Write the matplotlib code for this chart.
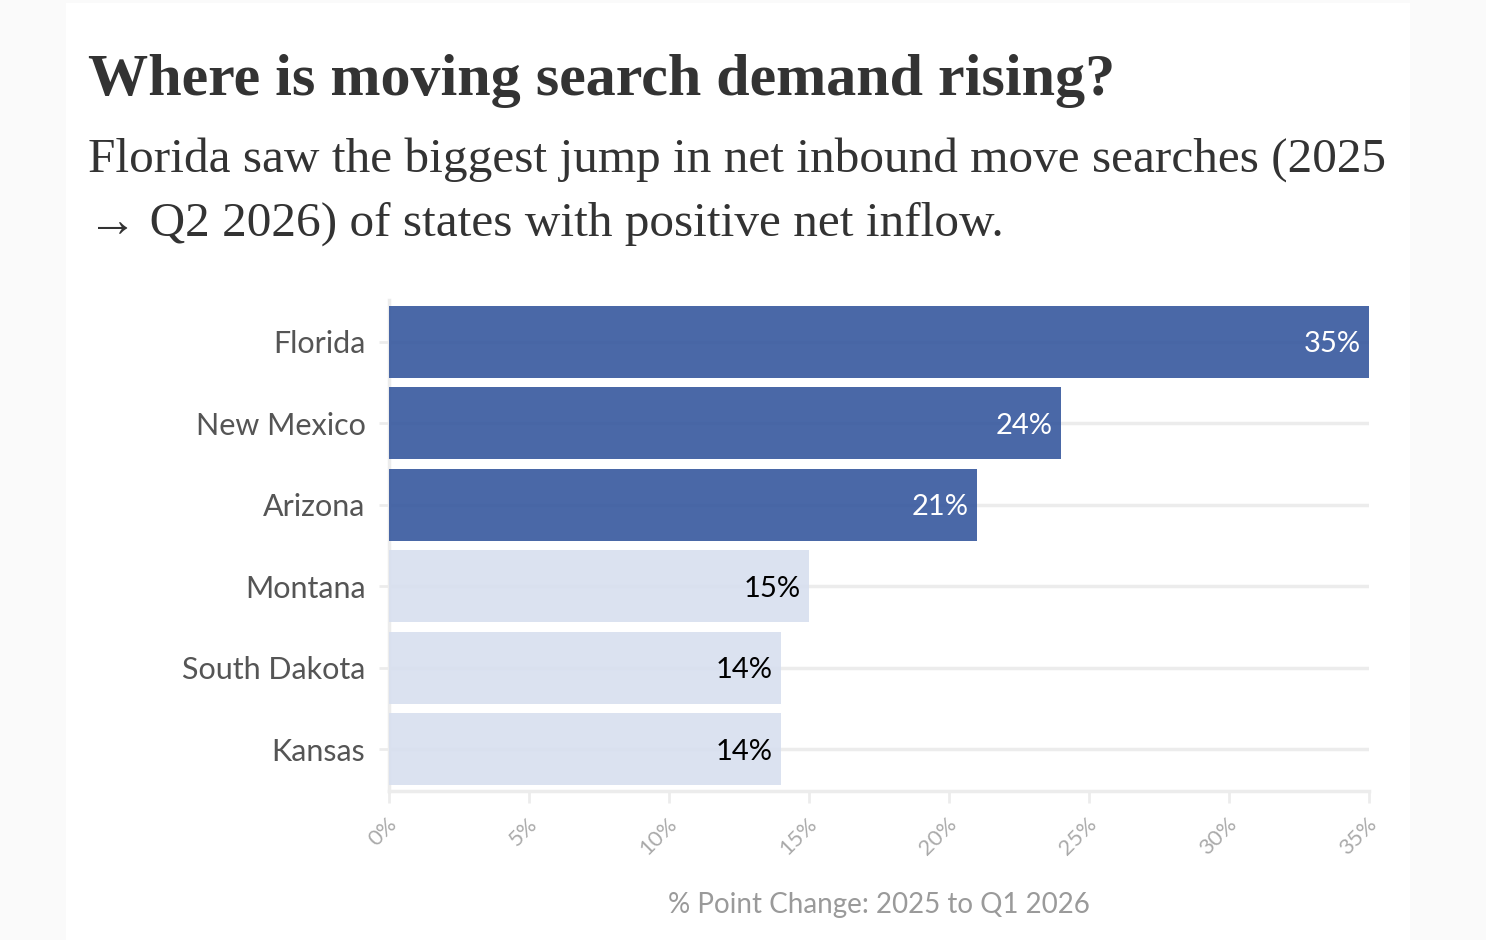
import matplotlib
matplotlib.use("Agg")
import matplotlib.pyplot as plt
from matplotlib.patches import Rectangle
from matplotlib.transforms import blended_transform_factory, ScaledTranslation

states = ["Florida", "New Mexico", "Arizona", "Montana", "South Dakota", "Kansas"]
values = [35, 24, 21, 15, 14, 14]
highlight = [True, True, True, False, False, False]
xticks = [0, 5, 10, 15, 20, 25, 30, 35]
xtick_labels = ["0%", "5%", "10%", "15%", "20%", "25%", "30%", "35%"]

title = "Where is moving search demand rising?"
subtitle1 = "Florida saw the biggest jump in net inbound move searches (2025"
subtitle2 = "\u2192 Q2 2026) of states with positive net inflow."
xlabel = "% Point Change: 2025 to Q1 2026"

DARK = "#36589e"
LIGHT = "#d7dfef"
GRID = "#ececec"
SERIF = ["Liberation Serif", "DejaVu Serif"]
SANS = ["Lato", "DejaVu Sans"]

W, H = 1486, 940
fig = plt.figure(figsize=(W / 100, H / 100), dpi=100)
fig.patch.set_facecolor("#fafafa")
fig.patches.append(Rectangle((66 / W, 0), (1410 - 66) / W, (H - 3) / H,
                             transform=fig.transFigure, facecolor="white",
                             edgecolor="none", zorder=-10))

ax_bottom, ax_top = 791, 300
ax = fig.add_axes([389 / W, 1 - ax_bottom / H, (1369 - 389) / W, (ax_bottom - ax_top) / H])
ax.set_zorder(1)
ax.set_facecolor("none")
ypos = list(range(len(states)))
for y in ypos:
    ax.axhline(y, color=GRID, lw=2.5, zorder=0, xmin=0, xmax=1)
colors = [DARK if h else LIGHT for h in highlight]
ax.barh(ypos, values, height=0.885, color=colors, alpha=0.9, zorder=3)
for y, v, h in zip(ypos, values, highlight):
    ax.text(v - 0.3, y, f"{v}%", ha="right", va="center_baseline", fontsize=21,
            family=SANS, color="white" if h else "black", zorder=4)

ax.set_xlim(0, 35)
ax.set_ylim(len(states) - 0.49, -0.51)
ax.set_yticks(ypos)
ax.set_yticklabels(states, fontsize=22, family=SANS, color="#555555")
ax.set_xticks(xticks)
ax.set_xticklabels([])
ax.tick_params(axis="x", length=8.5, width=2, color=GRID)
ax.tick_params(axis="y", length=7, width=2, color=GRID, pad=10)
for s in ["top", "right"]:
    ax.spines[s].set_visible(False)
for s in ["left", "bottom"]:
    ax.spines[s].set_color(GRID)
    ax.spines[s].set_linewidth(2.5)

# rotated x tick labels
base = blended_transform_factory(ax.transData, ax.transAxes)
off = ScaledTranslation(5 / 100, -30 / 100, fig.dpi_scale_trans)
for xv, lab in zip(xticks, xtick_labels):
    ax.text(xv, 0, lab, transform=base + off, rotation=45, rotation_mode="anchor",
            ha="right", va="center", fontsize=16, family=SANS, color="#aaaaaa",
            clip_on=False)

ax.set_xlabel(xlabel, fontsize=20, family=SANS, color="#9a9a9a", va="center")
ax.xaxis.set_label_coords(0.5, -(905 - ax_bottom) / (ax_bottom - ax_top))

r = fig.canvas.get_renderer()

def fit(txt, target_w):
    bb = txt.get_window_extent(renderer=r)
    txt.set_fontsize(txt.get_fontsize() * target_w / bb.width)

t = fig.text(88 / W, 1 - 95 / H, title, fontsize=40, fontweight="bold",
             family=SERIF, color="#333333", ha="left", va="baseline")
fit(t, 1115 - 88)
s1 = fig.text(88 / W, 1 - 172 / H, subtitle1, fontsize=30, family=SERIF,
              color="#333333", ha="left", va="baseline")
fit(s1, 1385 - 88)
s2 = fig.text(88 / W, 1 - 236 / H, subtitle2, fontsize=s1.get_fontsize(),
              family=SERIF, color="#333333", ha="left", va="baseline")

fig.savefig("out.png", dpi=100, facecolor=fig.get_facecolor())
